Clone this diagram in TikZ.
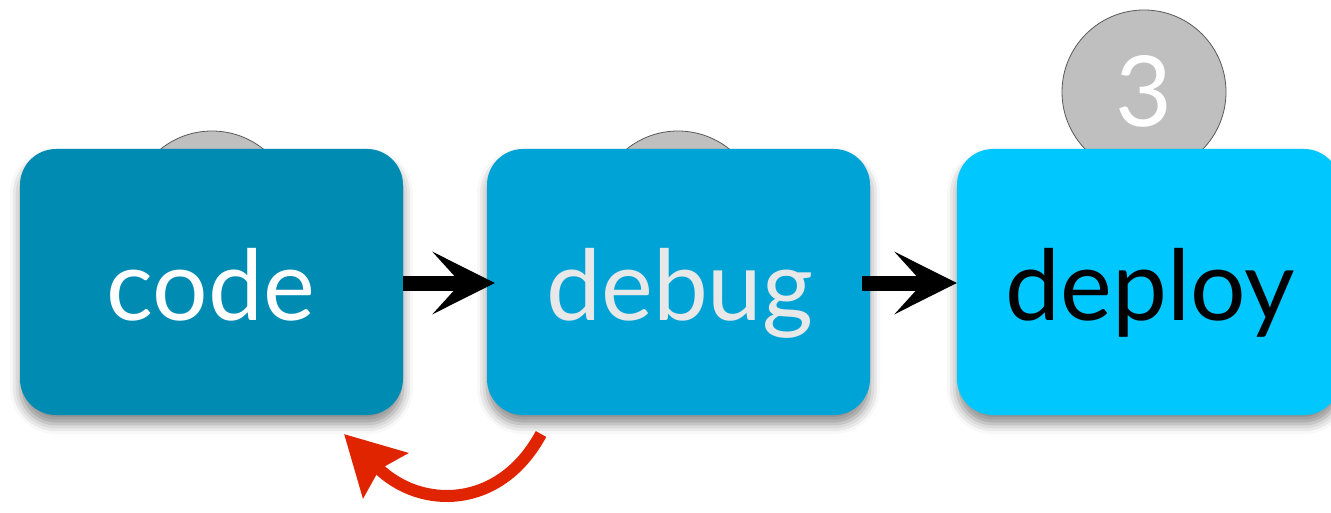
\documentclass[tikz,border=0pt]{standalone}
\usepackage{fontspec}
\setmainfont{Lato}
\usetikzlibrary{arrows.meta,shadows.blur}
\definecolor{codec}{RGB}{0,139,179}
\definecolor{debugc}{RGB}{0,163,214}
\definecolor{deployc}{RGB}{0,200,255}
\definecolor{redc}{RGB}{224,36,0}
\definecolor{circc}{RGB}{191,191,191}
\definecolor{txtgray}{RGB}{232,232,232}
\tikzset{
  stagebox/.style={rounded corners=36pt, minimum width=383pt, minimum height=266pt, inner sep=0pt,
    blur shadow={shadow xshift=0pt, shadow yshift=-9pt, shadow blur radius=10pt, shadow opacity=45}},
  numcirc/.style={circle, fill=circc, draw=black!65, line width=0.8pt, minimum size=164pt, inner sep=0pt},
  bigtxt/.style={font=\fontsize{98}{100}\selectfont, anchor=base, inner sep=0pt},
  fwd/.style={line width=15pt, -{Stealth[length=62pt,width=62pt,inset=28pt]}},
  back/.style={line width=12pt, redc, -{Stealth[length=58pt,width=62pt,inset=8pt]}}
}
\begin{document}
\begin{tikzpicture}[x=1pt,y=-1pt]
\useasboundingbox (0,0) rectangle (1331,513);
% circles behind
\node[numcirc] (c1) at (212,213) {};
\node[numcirc] (c2) at (678,213) {};
\node[numcirc] (c3) at (1144,92) {};
\node[bigtxt, text=white] (n3) at (1144,127) {3};
% boxes
\node[stagebox, fill=codec] (code) at (211.5,282) {};
\node[stagebox, fill=debugc] (debug) at (678.5,282) {};
\node[stagebox, fill=deployc] (deploy) at (1148.5,282) {};
% labels
\node[bigtxt, text=white] (t1) at (211,320) {code};
\node[bigtxt, text=txtgray] (t2) at (680,320) {debug};
\node[bigtxt, text=black] (t3) at (1150,320) {deploy};
% forward arrows
\draw[fwd] ([yshift=-1pt]code.east) -- ([xshift=8pt,yshift=-1pt]debug.west);
\draw[fwd] ([xshift=-8pt,yshift=-1pt]debug.east) -- ([yshift=-1pt]deploy.west);
% back arrow
\coordinate (rs) at (541,434);
\coordinate (re) at (344,434);
\draw[back] (rs) .. controls (500,510) and (420,510) .. (re);
\end{tikzpicture}
\end{document}
